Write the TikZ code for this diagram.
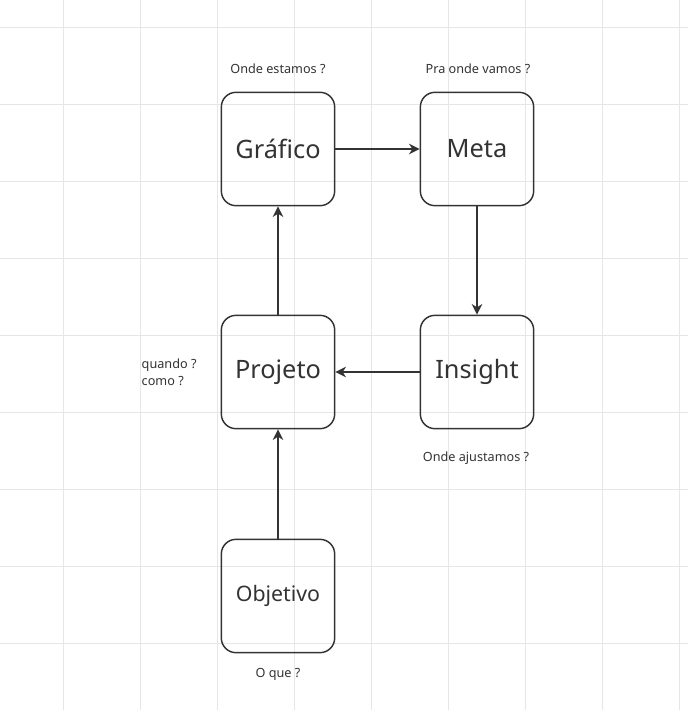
\documentclass[tikz,border=0pt]{standalone}
\usepackage{fontspec}
\setmainfont{Noto Sans}
\usetikzlibrary{positioning,arrows.meta}
\definecolor{ink}{HTML}{333333}
\definecolor{gridc}{HTML}{E6E6E6}
\tikzset{
  step box/.style={draw=ink,line width=1.1pt,rounded corners=11pt,
    minimum width=85pt,minimum height=85pt,font=\fontsize{19}{22}\selectfont,text=ink},
  note/.style={font=\fontsize{9.5}{13}\selectfont,text=ink},
  flow/.style={-{Stealth[length=8pt,width=8pt]},draw=ink,line width=1.1pt}
}
\begin{document}
\begin{tikzpicture}[x=0.75pt,y=-0.75pt]
\useasboundingbox (0,0) rectangle (688,710);
\fill[white] (0,0) rectangle (688,710);

% fundo quadriculado
\foreach \gx in {63,140,217,294,371,448,525,602,679}
  \draw[gridc,line width=0.6pt] (\gx,0) -- (\gx,710);
\foreach \gy in {27,104,181,258,335,412,489,566,643}
  \draw[gridc,line width=0.6pt] (0,\gy) -- (688,\gy);

% etapas
\node [step box] (grafico) at (278,149) {Gráfico};
\node [step box] (meta) at (477,149) {Meta};
\node [step box] (projeto) at (278,372) {Projeto};
\node [step box] (insight) at (477,372) {Insight};
\node [step box,font=\fontsize{16}{20}\selectfont] (objetivo) at (278,596) {Objetivo};

% perguntas
\node [note] (q-grafico) at (278,69) {Onde estamos ?};
\node [note] (q-meta) at (478,69) {Pra onde vamos ?};
\node [note,align=left,anchor=west] (q-projeto) at (137,372) {quando ?\\como ?};
\node [note] (q-insight) at (476,458) {Onde ajustamos ?};
\node [note] (q-objetivo) at (278,674) {O que ?};

% fluxo
\draw [flow] (grafico) -- (meta);
\draw [flow] (meta) -- (insight);
\draw [flow] (insight) -- (projeto);
\draw [flow] (projeto) -- (grafico);
\draw [flow] (objetivo) -- (projeto);

\end{tikzpicture}
\end{document}
